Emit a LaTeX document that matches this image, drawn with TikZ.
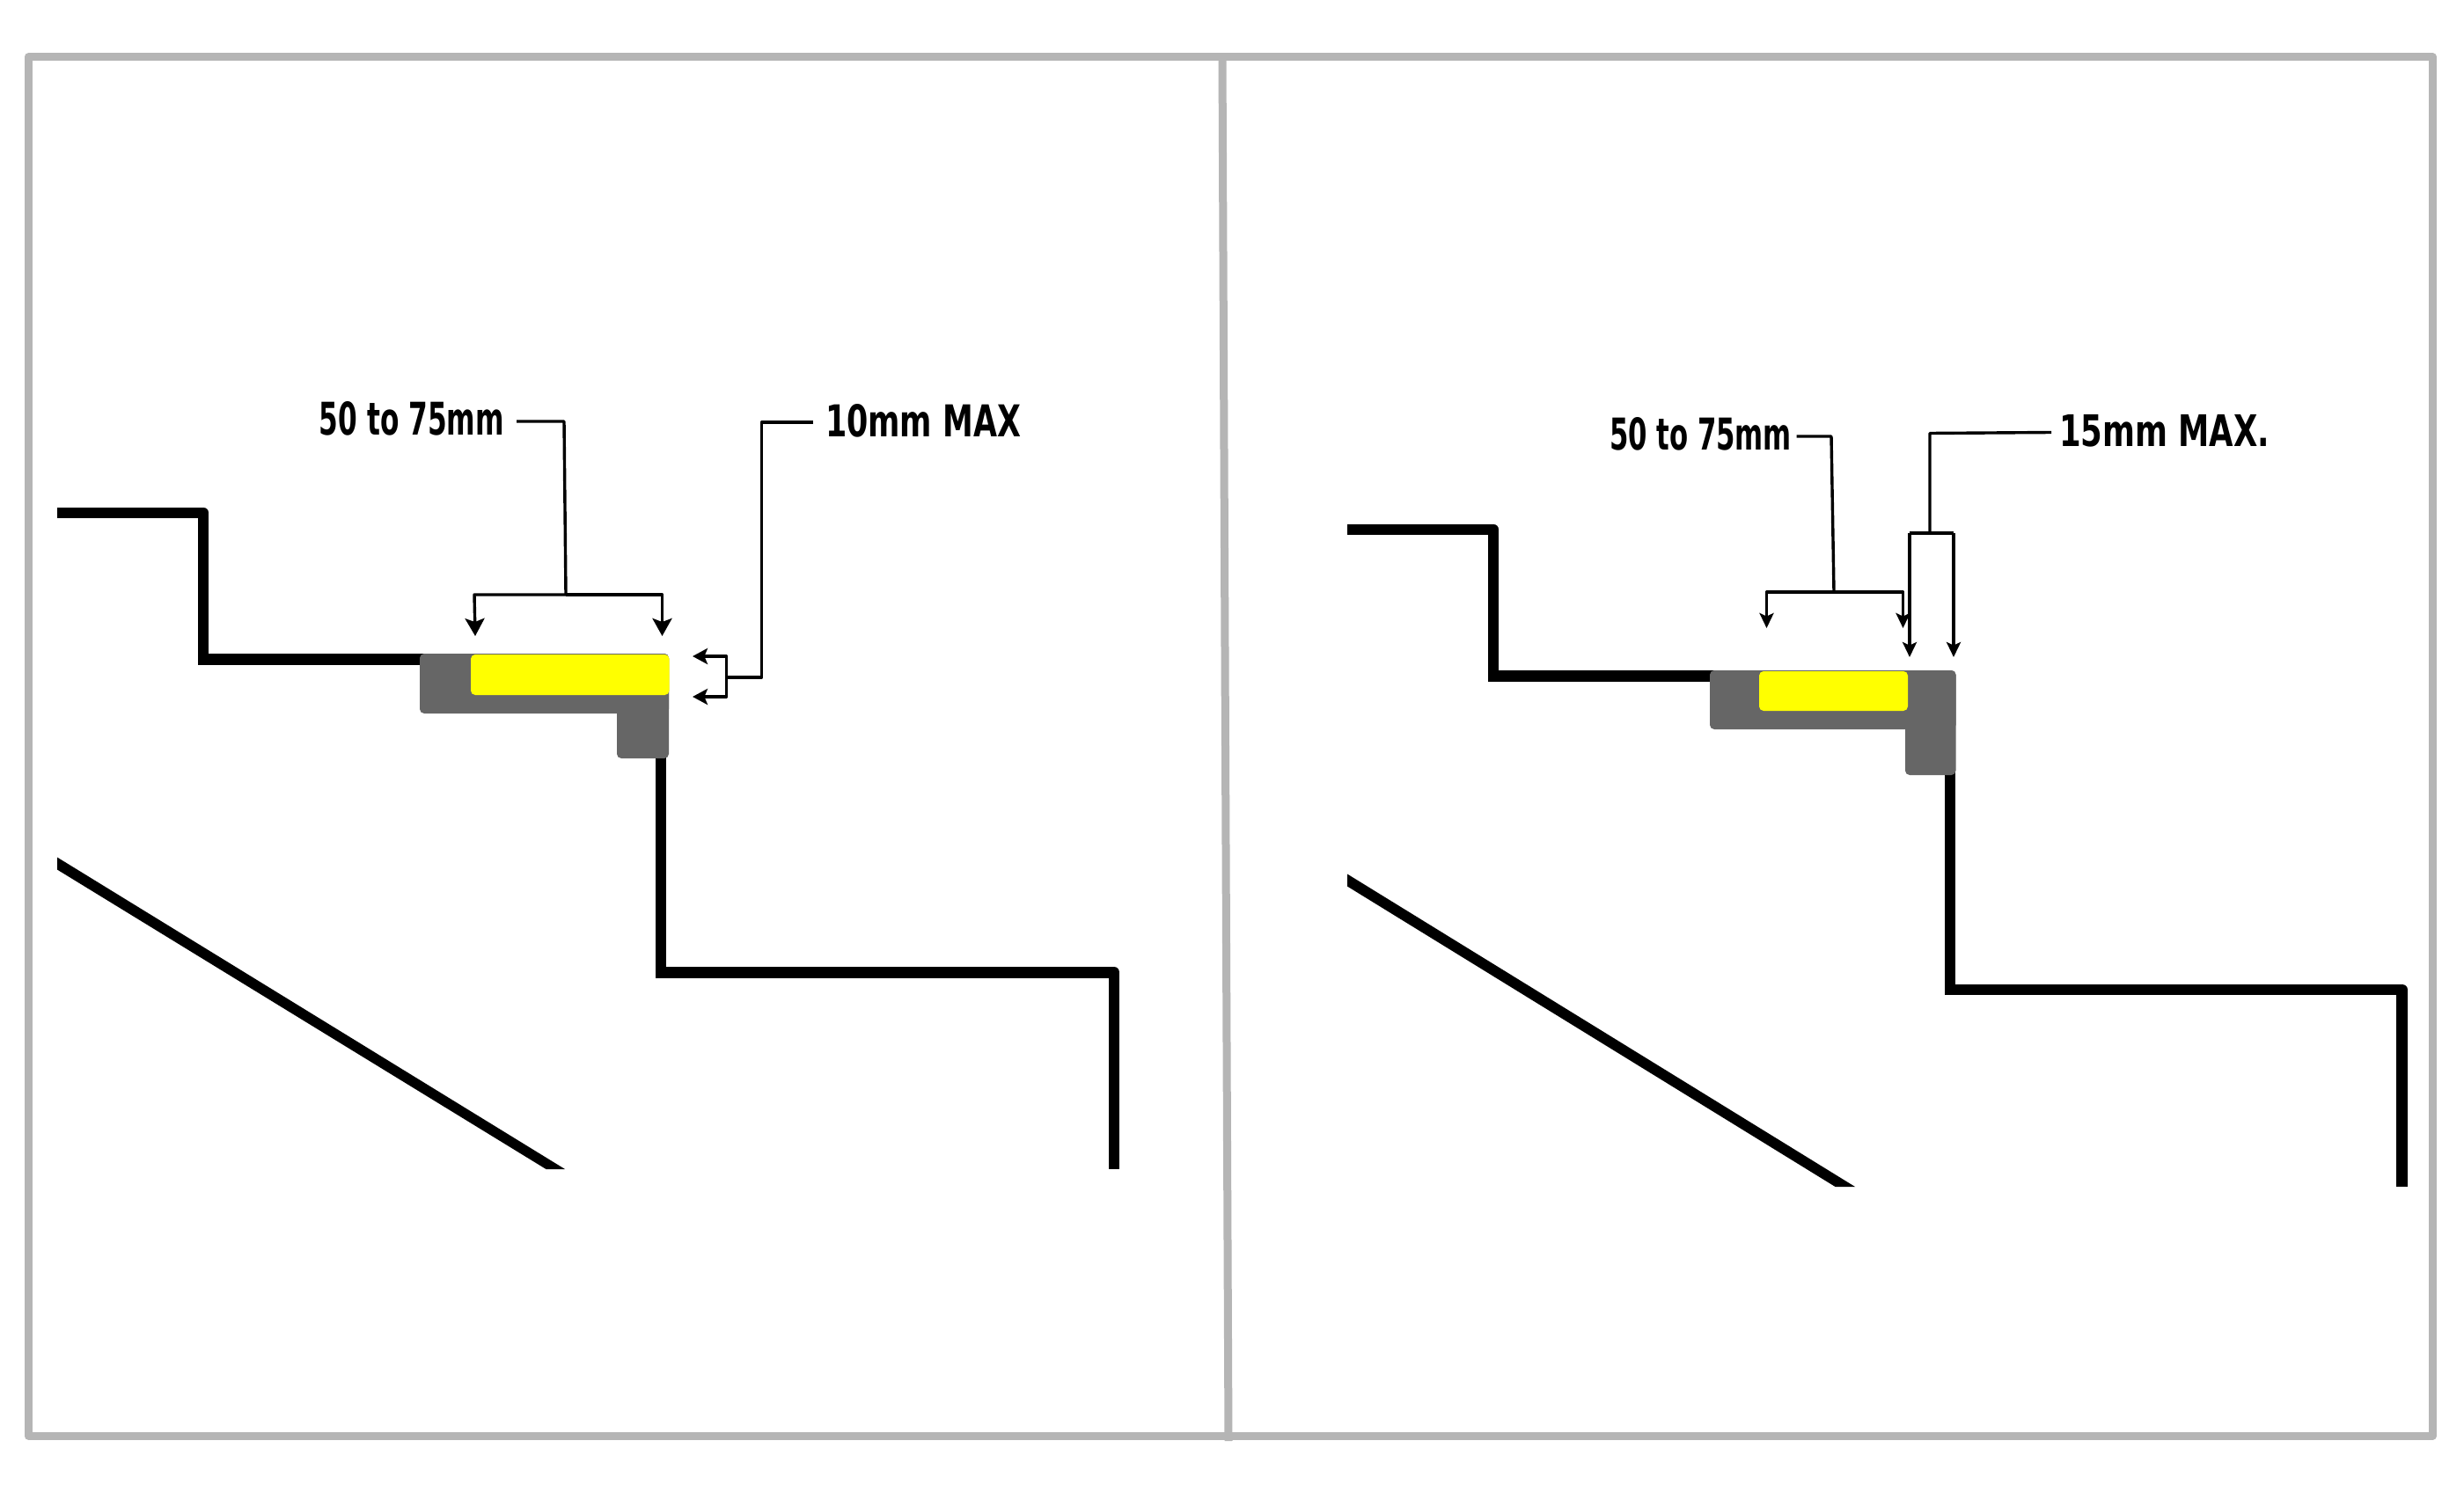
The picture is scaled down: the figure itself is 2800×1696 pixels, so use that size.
\documentclass[tikz,border=0pt]{standalone}
\usepackage{graphicx}
\usepackage{fontspec}
\setmainfont{DejaVu Sans}
\usetikzlibrary{arrows.meta}
\definecolor{framegray}{HTML}{B5B5B5}
\definecolor{capgray}{HTML}{666666}
\definecolor{stripyellow}{HTML}{FFFF00}
\newcommand{\dimlabel}[3]{\resizebox{#1pt}{#2pt}{\bfseries #3}}
\tikzset{
  framing/.style={draw=framegray,line width=4.5pt,line join=round},
  stair/.style={draw=black,line width=6.4pt,line join=round},
  diag/.style={fill=black,draw=none},
  capshape/.style={fill=capgray,draw=none,rounded corners=2.5pt},
  stripshape/.style={fill=stripyellow,draw=none,rounded corners=2.5pt},
  leader/.style={draw=black,line width=1.7pt,line join=round},
  bigtip/.style={leader,-{Stealth[length=10pt,width=11pt,inset=2pt]}},
  midtip/.style={leader,-{Stealth[length=8.5pt,width=9pt,inset=1.8pt]}},
  smalltip/.style={leader,-{Stealth[length=8.5pt,width=8pt,inset=1.8pt]}},
  dimtext/.style={inner sep=0pt,outer sep=0pt,anchor=center,text=black},
}
\begin{document}
\begin{tikzpicture}[x=0.5pt,y=-0.5pt]
\useasboundingbox (0,0) rectangle (2800,1696);
\fill[white] (0,0) rectangle (2800,1696);
% frame
\draw[framing] (32,65) rectangle (2764.5,1632);
\draw[framing] (1389,65) -- (1396,1638);
% ---- left panel
\draw[stair] (65,583) -- (231,583) -- (231,755);
\draw[stair] (225,749.5) -- (490,749.5);
\draw[stair] (751,850) -- (751,1111);
\draw[stair] (745,1105.5) -- (1266,1105.5) -- (1266,1329);
\fill[diag] (65,974.5) -- (642,1329) -- (620.5,1329) -- (65,988.5) -- cycle;
\path[capshape] (477,743) rectangle (760,811);
\path[capshape] (701,743) rectangle (760,862);
\path[stripshape] (535,744) -- (535,790) -- (760.5,790) -- (760.5,744) -- cycle;
\node[dimtext] (lablA) at (468,476) {\dimlabel{105}{19}{50 to 75mm}};
\node[dimtext] (lablB) at (1049,478.5) {\dimlabel{111}{18.5}{10mm MAX}};
\coordinate (a1) at (587,479);
\coordinate (a2) at (641,479);
\coordinate (a3) at (643,676);
\coordinate (a4) at (539,676);
\coordinate (a5) at (752.5,676);
\draw[leader] (a1) -- (a2) -- (a3);
\draw[bigtip] (a3) -- (a4) -- (540,723);
\draw[bigtip] (a3) -- (a5) -- (752.5,723);
\coordinate (b1) at (924,480);
\coordinate (b2) at (865.5,480);
\coordinate (b3) at (865.5,770);
\coordinate (b4) at (825.5,770);
\draw[leader] (b1) -- (b2) -- (b3) -- (b4);
\draw[midtip] (b4) -- (825.5,746) -- (787,746);
\draw[midtip] (b4) -- (825.5,792) -- (787,792);
% ---- right panel
\draw[stair] (1531,602) -- (1697,602) -- (1697,774);
\draw[stair] (1691,768.5) -- (1956,768.5);
\draw[stair] (2216,870) -- (2216,1131);
\draw[stair] (2210,1125) -- (2729.5,1125) -- (2729.5,1349);
\fill[diag] (1531,993.5) -- (2108,1349) -- (2085.5,1349) -- (1531,1007.5) -- cycle;
\path[capshape] (1943,762) rectangle (2222.5,829);
\path[capshape] (2165,762) rectangle (2222.5,881);
\path[stripshape] (1999,763) -- (1999,808) -- (2168,808) -- (2168,763) -- cycle;
\node[dimtext] (labrA) at (1932.5,493.5) {\dimlabel{103.5}{18.5}{50 to 75mm}};
\node[dimtext] (labrB) at (2459.5,490) {\dimlabel{119.5}{18}{15mm MAX.}};
\coordinate (c1) at (2041.5,496);
\coordinate (c2) at (2081,496);
\coordinate (c3) at (2084,673);
\coordinate (c4) at (2007.5,673);
\coordinate (c5) at (2162.5,673);
\draw[leader] (c1) -- (c2) -- (c3);
\draw[smalltip] (c3) -- (c4) -- (2007.5,714);
\draw[smalltip] (c3) -- (c5) -- (2162.5,714);
\coordinate (d1) at (2331,491.5);
\coordinate (d2) at (2193,492.5);
\coordinate (d3) at (2193,606);
\coordinate (d4) at (2170,606);
\coordinate (d5) at (2220,606);
\draw[leader] (d1) -- (d2) -- (d3);
\draw[draw=black,line width=2.2pt] (d4) -- (d5);
\draw[smalltip] (d4) -- (2170,747);
\draw[smalltip] (d5) -- (2220,747);
\end{tikzpicture}
\end{document}
